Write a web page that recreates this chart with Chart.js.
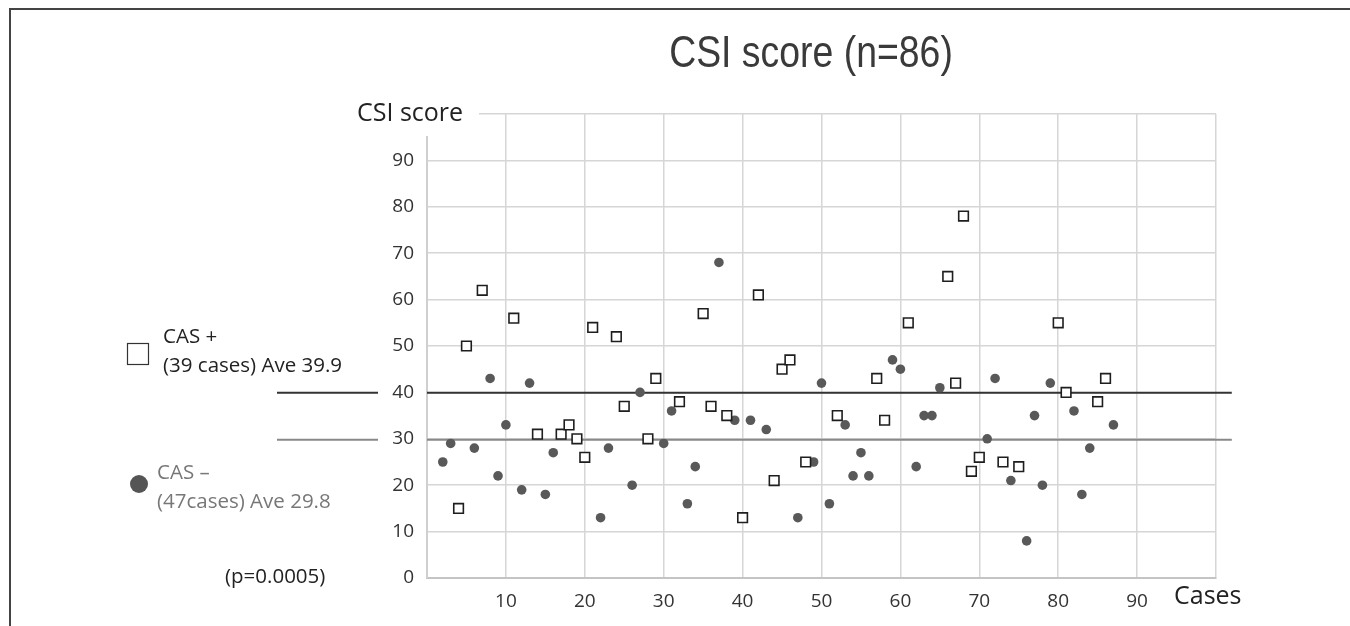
<!DOCTYPE html>
<html>
<head>
<meta charset="utf-8">
<title>CSI score (n=86)</title>
<script src="https://cdn.jsdelivr.net/npm/chart.js@4.4.1/dist/chart.umd.min.js"></script>
<style>
    html, body { margin: 0; padding: 0; background: #fff; }
    #wrap { position: relative; width: 1350px; height: 626px; }
</style>
</head>
<body>
<div id="wrap">
    <canvas id="csiChart" width="1350" height="626"></canvas>
</div>
<script>
// case number / CSI score
const casPosCases = [4, 5, 7, 11, 14, 17, 18, 19, 20, 21, 24, 25, 28, 29, 32, 35, 36, 38, 40, 42,
    44, 45, 46, 48, 52, 57, 58, 61, 66, 67, 68, 69, 70, 73, 75, 80, 81, 85, 86];
const casPosScores = [15, 50, 62, 56, 31, 31, 33, 30, 26, 54, 52, 37, 30, 43, 38, 57, 37, 35, 13, 61,
    21, 45, 47, 25, 35, 43, 34, 55, 65, 42, 78, 23, 26, 25, 24, 55, 40, 38, 43];

const casNegCases = [2, 3, 6, 8, 9, 10, 12, 13, 15, 16, 22, 23, 26, 27, 30, 31, 33, 34, 37, 39,
    41, 43, 47, 49, 50, 51, 53, 54, 55, 56, 59, 60, 62, 63, 64, 65, 71, 72, 74, 76,
    77, 78, 79, 82, 83, 84, 87];
const casNegScores = [25, 29, 28, 43, 22, 33, 19, 42, 18, 27, 13, 28, 20, 40, 29, 36, 16, 24, 68, 34,
    34, 32, 13, 25, 42, 16, 33, 22, 27, 22, 47, 45, 24, 35, 35, 41, 30, 43, 21, 8,
    35, 20, 42, 36, 18, 28, 33];

const groupLabels = ['CAS +', 'CAS \u2013'];
const groupNotes = ['(39 cases) Ave 39.9', '(47cases) Ave 29.8'];
const groupAverages = [39.9, 29.8];
const avgLineRange = [0, 102];
const pValueText = '(p=0.0005)';

const xTickValues = [0, 10, 20, 30, 40, 50, 60, 70, 80, 90, 100];
const yTickValues = [0, 10, 20, 30, 40, 50, 60, 70, 80, 90, 100];

const FONT = '"Open Sans", "Noto Sans", sans-serif';

const toPoints = (xs, ys) => xs.map((x, i) => ({ x: x, y: ys[i] }));

// text, frame and the little legend on the left
const annotations = {
    id: 'annotations',
    afterDraw(chart) {
        const { ctx, chartArea, scales } = chart;
        const yScale = scales.y;
        ctx.save();

        // frame round the figure
        ctx.strokeStyle = '#444';
        ctx.lineWidth = 2;
        ctx.beginPath();
        ctx.moveTo(10, 626);
        ctx.lineTo(10, 9);
        ctx.lineTo(1350, 9);
        ctx.stroke();

        // white patch behind the axis title
        ctx.fillStyle = '#fff';
        ctx.fillRect(chartArea.left - 6, chartArea.top - 8, 58, 30);

        // condensed title: squeeze Liberation Sans sideways
        ctx.save();
        ctx.fillStyle = '#3a3a3a';
        ctx.font = '44px "Liberation Sans", Arial, sans-serif';
        ctx.textAlign = 'center';
        ctx.textBaseline = 'middle';
        ctx.translate(811, 55);
        ctx.scale(0.85, 1);
        ctx.fillText('CSI score (n=86)', 0, 0);
        ctx.restore();

        ctx.font = '25px ' + FONT;
        ctx.textAlign = 'left';
        ctx.textBaseline = 'middle';
        ctx.fillStyle = '#222';
        ctx.fillText('CSI score', 357, chartArea.top);
        ctx.font = '25px ' + FONT;
        ctx.fillText('Cases', 1174, 597);

        // short stubs of the average lines, left of the tick labels
        const stubColors = ['#333', '#888'];
        groupAverages.forEach((avg, i) => {
            const py = yScale.getPixelForValue(avg);
            ctx.strokeStyle = stubColors[i];
            ctx.lineWidth = 2;
            ctx.beginPath();
            ctx.moveTo(chartArea.left - 150, py);
            ctx.lineTo(chartArea.left - 49, py);
            ctx.stroke();
        });

        // legend: square for CAS +
        ctx.fillStyle = '#fff';
        ctx.strokeStyle = '#333';
        ctx.lineWidth = 1.2;
        ctx.fillRect(127.5, 343.5, 21, 21);
        ctx.strokeRect(127.5, 343.5, 21, 21);
        ctx.font = '20.5px ' + FONT;
        ctx.fillStyle = '#222';
        ctx.fillText(groupLabels[0], 163, 337);
        ctx.fillText(groupNotes[0], 163, 366);

        // legend: dot for CAS -
        ctx.fillStyle = '#555';
        ctx.beginPath();
        ctx.arc(139, 484, 9, 0, Math.PI * 2);
        ctx.fill();
        ctx.fillStyle = '#777';
        ctx.fillText(groupLabels[1], 157, 473);
        ctx.fillText(groupNotes[1], 157, 502);

        ctx.fillStyle = '#222';
        ctx.fillText(pValueText, 225, 577);

        ctx.restore();
    }
};

const ctx = document.getElementById('csiChart').getContext('2d');
new Chart(ctx, {
    type: 'scatter',
    data: {
        datasets: [
            {
                label: groupLabels[0],
                data: toPoints(casPosCases, casPosScores),
                pointStyle: 'rect',
                pointRadius: 6.8,
                pointBackgroundColor: '#fff',
                pointBorderColor: '#1e1e1e',
                pointBorderWidth: 1.6,
                order: 0
            },
            {
                label: groupLabels[1],
                data: toPoints(casNegCases, casNegScores),
                pointStyle: 'circle',
                pointRadius: 4.8,
                pointBackgroundColor: '#595959',
                pointBorderColor: '#595959',
                pointBorderWidth: 0,
                order: 1
            },
            {
                label: 'Ave ' + groupLabels[0],
                data: avgLineRange.map(x => ({ x: x, y: groupAverages[0] })),
                showLine: true,
                borderColor: '#333',
                borderWidth: 2,
                pointRadius: 0,
                clip: false,
                order: 2
            },
            {
                label: 'Ave ' + groupLabels[1],
                data: avgLineRange.map(x => ({ x: x, y: groupAverages[1] })),
                showLine: true,
                borderColor: '#888',
                borderWidth: 2,
                pointRadius: 0,
                clip: false,
                order: 3
            }
        ]
    },
    options: {
        responsive: false,
        animation: false,
        devicePixelRatio: 1,
        layout: { padding: { top: 114, right: 134, left: 0, bottom: 0 } },
        plugins: {
            legend: { display: false },
            title: { display: false },
            tooltip: { enabled: false }
        },
        scales: {
            x: {
                type: 'linear',
                min: 0,
                max: 100,
                afterFit: scale => { scale.height = 48; },
                afterBuildTicks: scale => { scale.ticks = xTickValues.map(v => ({ value: v })); },
                grid: { color: '#d6d6d6', lineWidth: 1.5, drawTicks: false },
                border: { color: '#c4c4c4', width: 2 },
                ticks: {
                    padding: 12,
                    color: '#333',
                    font: { family: FONT, size: 19 },
                    callback: v => (v === 0 || v === 100) ? '' : v
                }
            },
            y: {
                type: 'linear',
                min: 0,
                max: 100,
                afterFit: scale => { scale.width = 427; },
                afterBuildTicks: scale => { scale.ticks = yTickValues.map(v => ({ value: v })); },
                grid: { color: '#d6d6d6', lineWidth: 1.5, drawTicks: false },
                border: { color: '#cfcfcf', width: 2 },
                ticks: {
                    padding: 13,
                    color: '#333',
                    font: { family: FONT, size: 19 },
                    callback: v => v === 100 ? '' : v
                }
            }
        }
    },
    plugins: [annotations]
});
</script>
</body>
</html>
